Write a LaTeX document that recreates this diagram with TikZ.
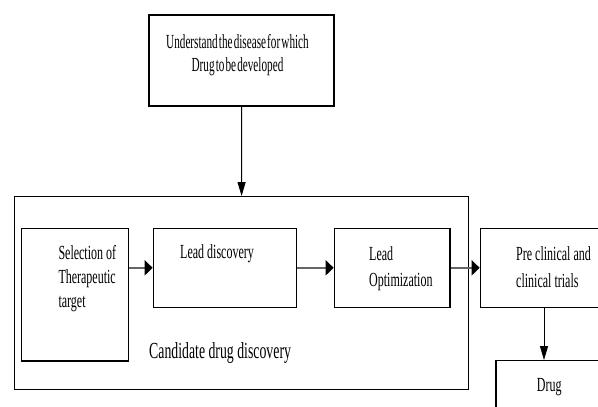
\documentclass[tikz,border=0pt]{standalone}
\usepackage{fontspec}
\setmainfont{Liberation Serif}[FakeStretch=0.6]
\newfontfamily\tightserif{Liberation Serif}[FakeStretch=0.56, WordSpace=0.4]
\usetikzlibrary{arrows.meta}

\begin{document}
\begin{tikzpicture}[x=1pt, y=-1pt,
    box/.style={draw, line width=1.3pt, inner sep=0pt},
    txt/.style={anchor=north west, inner sep=0pt, align=left, font=\fontsize{20}{25}\selectfont},
    varr/.style={line width=1pt, -{Triangle[length=14pt, width=8pt]}},
    harr/.style={line width=2.6pt, black!60, -{Triangle[length=8pt, width=15pt, color=black]}}]

    % Moldura da figura (recortada como no original)
    \useasboundingbox (0,0) rectangle (598,407);
    \clip (0,0) rectangle (598,407);

    % Caixas
    \node[box, minimum width=185pt, minimum height=91pt] (understand) at (241.5,60.5) {};
    \node[box, minimum width=454.2pt, minimum height=192.6pt] (candidate) at (241.6,293) {};
    \node[box, minimum width=106.6pt, minimum height=132.7pt] (selection) at (75,294.65) {};
    \node[box, minimum width=143.4pt, minimum height=79pt] (leaddisc) at (225,267.8) {};
    \node[box, minimum width=115.7pt, minimum height=79pt] (leadopt) at (392.15,267.8) {};
    \node[box, minimum width=127.4pt, minimum height=79pt] (preclin) at (544,267.8) {};
    \node[box, minimum width=106pt, minimum height=80pt] (drug) at (549,400.7) {};

    % Textos
    \node[txt, anchor=north, align=center, font=\tightserif\fontsize{20}{23.4}\selectfont] (understand-t) at (237.5,34.3) {Understand the disease for which\\Drug to be developed};
    \node[txt, font=\fontsize{20}{24}\selectfont] (selection-t) at (58.3,245.5) {Selection of\\Therapeutic\\target};
    \node[txt] (leaddisc-t) at (180,244.7) {Lead discovery};
    \node[txt, font=\fontsize{20}{26}\selectfont] (leadopt-t) at (369,246) {Lead\\Optimization};
    \node[txt, font=\fontsize{20}{27}\selectfont] (preclin-t) at (516,246) {Pre clinical and\\clinical trials};
    \node[txt] (drug-t) at (536.7,378.7) {Drug};
    \node[txt, font=\fontsize{23}{28}\selectfont] (candidate-t) at (149,342) {Candidate drug discovery};

    % Setas verticais
    \draw[varr] (understand.south) -- (candidate.north);
    \draw[varr] (preclin.south) -- (preclin.south |- drug.north);

    % Setas horizontais
    \draw[harr] (selection.east |- leaddisc.west) -- (leaddisc.west);
    \draw[harr] (leaddisc.east) -- (leadopt.west);
    \draw[harr] (leadopt.east) -- (preclin.west);
\end{tikzpicture}
\end{document}
